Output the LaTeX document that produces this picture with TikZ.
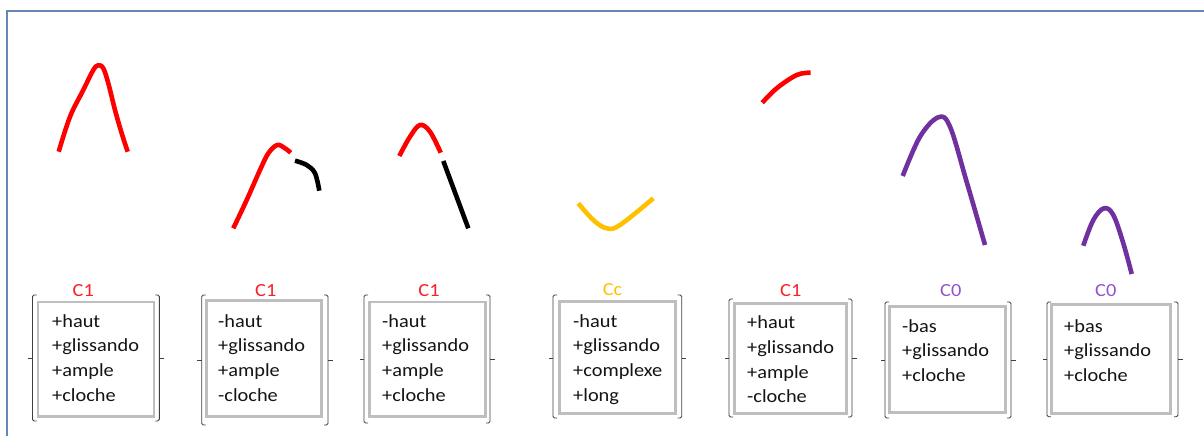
\documentclass[tikz,border=0pt]{standalone}
\usepackage{fontspec}
\setmainfont{Carlito}[FakeStretch=1.1]
\definecolor{cred}{RGB}{255,0,0}
\definecolor{cyel}{RGB}{255,192,0}
\definecolor{cpur}{RGB}{112,48,160}
\definecolor{lred}{RGB}{250,30,40}
\definecolor{lpur}{RGB}{146,84,206}
\definecolor{frame}{RGB}{100,135,180}
\definecolor{boxgray}{RGB}{190,190,190}
\newcommand{\featbr}[5]{% L R T B M
  \draw[bracketline] ({#1+4},#3) -- (#1,#3) -- (#1,#4) -- ({#1+4},#4);
  \draw[bracketline] (#1,#5) -- ({#1-4.5},#5);
  \draw[bracketline] ({#2-4},#3) -- (#2,#3) -- (#2,#4) -- ({#2-4},#4);
  \draw[bracketline] (#2,#5) -- ({#2+4.5},#5);
}
\begin{document}
\begin{tikzpicture}[x=1pt,y=-1pt,
  curve/.style={line width=4.6pt, line cap=butt, line join=round},
  bracketline/.style={draw=black!75, line width=0.9pt, rounded corners=1.5pt},
  featbox/.style={draw=boxgray, line width=2.6pt, inner sep=0pt},
  feattext/.style={anchor=base west, inner sep=0pt, text=black!92, font=\fontsize{18.5}{24.8}\selectfont},
  catlabel/.style={anchor=base, inner sep=0pt, font=\fontsize{18.5}{22}\selectfont}
]
\useasboundingbox (0,0) rectangle (1204,436);
% frame
\draw[frame, line width=1.6pt] (7,436) -- (7,11) -- (1204,11);

% curves
\draw[curve, cred] plot[smooth, tension=0.6] coordinates {(58.7,151.7) (70,116.7) (83.3,90) (93.3,70) (98.3,65.3) (103.3,68.3) (108.3,83.3) (115,110) (121.7,133.3) (127.7,151.7)};
\draw[curve, cred] plot[smooth, tension=0.6] coordinates {(233.3,228.3) (246.7,200) (260,170) (268.3,153.3) (277.3,145) (285,148.3) (290.7,152.7)};
\draw[curve, black] plot[smooth, tension=0.6] coordinates {(295,160.7) (306.7,165) (315,173.3) (319.3,190.7)};
\draw[curve, cred] plot[smooth, tension=0.6] coordinates {(399.3,156) (410,136.7) (420,125) (430,131.7) (440.7,152.7)};
\draw[curve, black] (443.3,161) -- (468.3,228.3);
\draw[curve, cyel] plot[smooth, tension=0.6] coordinates {(578.3,203.3) (593.3,220) (606.7,228.3) (620,225) (653.3,198.3)};
\draw[curve, cred] plot[smooth, tension=0.6] coordinates {(762.3,102.7) (776.7,88.3) (796.7,75) (810.7,72.7)};
\draw[curve, cpur] plot[smooth, tension=0.6] coordinates {(902.7,176) (920,136.7) (938.3,117.3) (950,126.7) (966.7,182) (985,245)};
\draw[curve, cpur] plot[smooth, tension=0.6] coordinates {(1083.3,245.7) (1093.3,220) (1104,208.3) (1113.3,215) (1123.3,243.3) (1131.7,274)};

% boxes
\node[featbox, minimum width=116pt, minimum height=114.5pt] (box1) at (96,359.25) {};
\node[featbox, minimum width=115pt, minimum height=116pt] (box2) at (264,358.5) {};
\node[featbox, minimum width=116pt, minimum height=114.5pt] (box3) at (427.5,359.25) {};
\node[featbox, minimum width=116pt, minimum height=112pt] (box4) at (617.5,357.5) {};
\node[featbox, minimum width=112pt, minimum height=110pt] (box5) at (790.5,358.5) {};
\node[featbox, minimum width=116pt, minimum height=106pt] (box6) at (947.5,359.5) {};
\node[featbox, minimum width=119pt, minimum height=109pt] (box7) at (1111,359) {};

% brackets
\featbr{32.5}{159.3}{295}{421}{358.5}
\featbr{201.7}{328}{295}{425}{360}
\featbr{364}{490}{295}{423}{359}
\featbr{553}{681.7}{295}{418}{358}
\featbr{729}{852}{299}{417}{358}
\featbr{885}{1011}{302}{418}{360}
\featbr{1047}{1178}{302}{416.7}{359.5}

% labels
\node[catlabel, text=lred] (lab1) at (83.3,296.5) {C1};
\node[catlabel, text=lred] (lab2) at (265.8,296.5) {C1};
\node[catlabel, text=lred] (lab3) at (429,296.5) {C1};
\node[catlabel, text=cyel] (lab4) at (612.5,295.5) {Cc};
\node[catlabel, text=lred] (lab5) at (790.8,296.5) {C1};
\node[catlabel, text=lpur] (lab6) at (950.8,296.5) {C0};
\node[catlabel, text=lpur] (lab7) at (1105.8,296.5) {C0};

% feature texts
\node[feattext] (txt1) at (52,327) {\begin{tabular}[t]{@{}l@{}}+haut\\+glissando\\+ample\\+cloche\end{tabular}};
\node[feattext] (txt2) at (218,327) {\begin{tabular}[t]{@{}l@{}}-haut\\+glissando\\+ample\\-cloche\end{tabular}};
\node[feattext] (txt3) at (382,327) {\begin{tabular}[t]{@{}l@{}}-haut\\+glissando\\+ample\\+cloche\end{tabular}};
\node[feattext] (txt4) at (573,327) {\begin{tabular}[t]{@{}l@{}}-haut\\+glissando\\+complexe\\+long\end{tabular}};
\node[feattext] (txt5) at (747,328.5) {\begin{tabular}[t]{@{}l@{}}+haut\\+glissando\\+ample\\-cloche\end{tabular}};
\node[feattext] (txt6) at (902,332) {\begin{tabular}[t]{@{}l@{}}-bas\\+glissando\\+cloche\end{tabular}};
\node[feattext] (txt7) at (1064,332) {\begin{tabular}[t]{@{}l@{}}+bas\\+glissando\\+cloche\end{tabular}};
\end{tikzpicture}
\end{document}
